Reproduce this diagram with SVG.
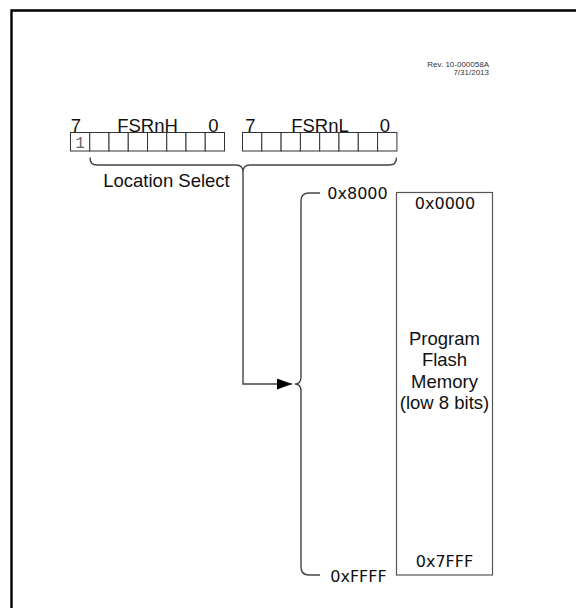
<svg xmlns="http://www.w3.org/2000/svg" width="576" height="608" viewBox="0 0 576 608">
<defs>
<style>
.lbl{font-family:"Liberation Sans",Arial,sans-serif;font-size:18.5px;fill:#111}
.hex{font-family:"DejaVu Sans",Verdana,sans-serif;font-size:16px;fill:#111}
.cell{fill:#fff;stroke:#333;stroke-width:1}
.conn{fill:none;stroke:#444;stroke-width:1.4}
</style>
<marker id="arr" viewBox="0 0 15 11" refX="15" refY="5.5" markerWidth="15" markerHeight="11" markerUnits="userSpaceOnUse" orient="auto">
<path d="M0,0 L15,5.5 L0,11 Z" fill="#000"/>
</marker>
</defs>
<rect width="576" height="608" fill="#fff"/>
<path d="M11.5,612 V10.5 H580" fill="none" stroke="#000" stroke-width="2.4"/>
<g id="rev">
<text x="489" y="66.5" text-anchor="end" style="font-family:'Liberation Sans',Arial,sans-serif;font-size:8px;fill:#333">Rev. 10-000058A</text>
<text x="489" y="75" text-anchor="end" style="font-family:'Liberation Sans',Arial,sans-serif;font-size:8px;fill:#333">7/31/2013</text>
</g>
<g id="fsrnh">
<text class="lbl" x="76" y="131.5" text-anchor="middle">7</text>
<text class="lbl" x="147.5" y="131.5" text-anchor="middle">FSRnH</text>
<text class="lbl" x="213.5" y="131.5" text-anchor="middle">0</text>
<rect class="cell" x="70.5" y="132.5" width="19.25" height="18.5"/>
<rect class="cell" x="89.75" y="132.5" width="19.25" height="18.5"/>
<rect class="cell" x="109" y="132.5" width="19.25" height="18.5"/>
<rect class="cell" x="128.25" y="132.5" width="19.25" height="18.5"/>
<rect class="cell" x="147.5" y="132.5" width="19.25" height="18.5"/>
<rect class="cell" x="166.75" y="132.5" width="19.25" height="18.5"/>
<rect class="cell" x="186" y="132.5" width="19.25" height="18.5"/>
<rect class="cell" x="205.25" y="132.5" width="19.25" height="18.5"/>
<text x="80" y="147.5" text-anchor="middle" style="font-family:'Liberation Mono','Courier New',monospace;font-size:16px;fill:#666">1</text>
</g>
<g id="fsrnl">
<text class="lbl" x="250.5" y="131.5" text-anchor="middle">7</text>
<text class="lbl" x="320" y="131.5" text-anchor="middle">FSRnL</text>
<text class="lbl" x="385" y="131.5" text-anchor="middle">0</text>
<rect class="cell" x="242.5" y="132.5" width="19.3" height="18.5"/>
<rect class="cell" x="261.8" y="132.5" width="19.3" height="18.5"/>
<rect class="cell" x="281.1" y="132.5" width="19.3" height="18.5"/>
<rect class="cell" x="300.4" y="132.5" width="19.3" height="18.5"/>
<rect class="cell" x="319.7" y="132.5" width="19.3" height="18.5"/>
<rect class="cell" x="339" y="132.5" width="19.3" height="18.5"/>
<rect class="cell" x="358.3" y="132.5" width="19.3" height="18.5"/>
<rect class="cell" x="377.6" y="132.5" width="19.3" height="18.5"/>
</g>
<g id="location-select">
<text class="lbl" x="166.5" y="187" text-anchor="middle">Location Select</text>
</g>
<g id="memory">
<rect x="396.5" y="192.5" width="96" height="382.5" fill="#fff" stroke="#555" stroke-width="1.2"/>
<text class="hex" x="445" y="208.5" text-anchor="middle">0x0000</text>
<text class="hex" x="444.5" y="566.5" text-anchor="middle">0x7FFF</text>
<text class="lbl" x="444.5" y="344.5" text-anchor="middle">Program</text>
<text class="lbl" x="444.5" y="366" text-anchor="middle">Flash</text>
<text class="lbl" x="444.5" y="387.5" text-anchor="middle">Memory</text>
<text class="lbl" x="444.5" y="409" text-anchor="middle">(low 8 bits)</text>
</g>
<g id="address-labels">
<text class="hex" x="357.5" y="198.5" text-anchor="middle">0x8000</text>
<text class="hex" x="358.5" y="582" text-anchor="middle">0xFFFF</text>
</g>
<g id="connectors">
<path class="conn" d="M90,157.5 Q90,165 97,165 H236 Q243,165 243,172 Q243,165 250,165 H389.5 Q396.5,165 396.5,157.5"/>
<path class="conn" d="M320,193 H309 Q301,193 301,201 V377 Q301,384 295,384 Q301,384 301,391 V567 Q301,575 309,575 H320"/>
<path class="conn" d="M243,172 V384 H292" stroke-width="1.5" marker-end="url(#arr)"/>
</g>
</svg>
